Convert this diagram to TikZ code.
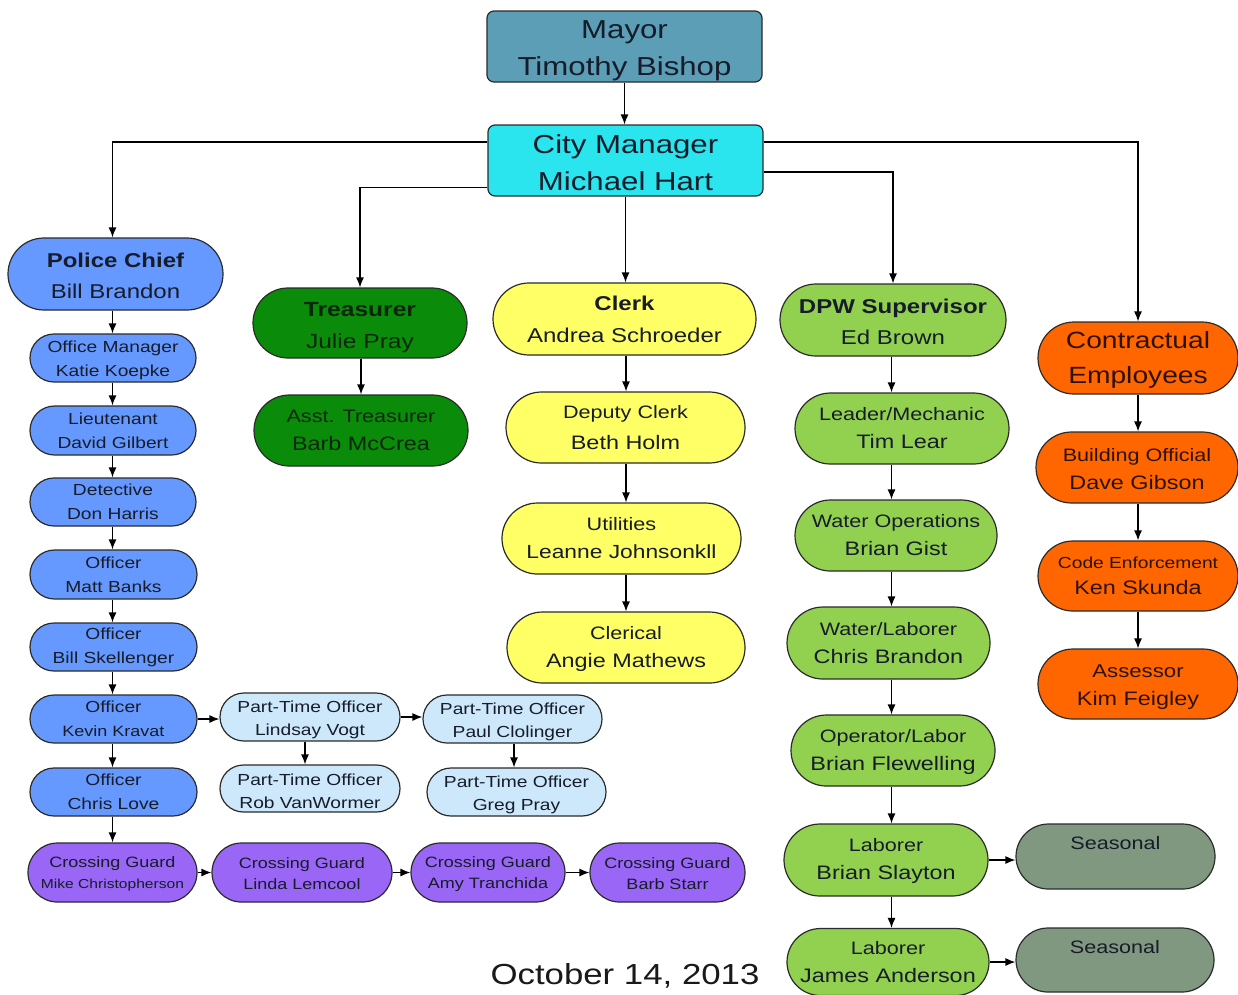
\documentclass[tikz,border=0pt]{standalone}
\usepackage{fontspec}
\setmainfont{Liberation Sans}[FakeStretch=1.2]
\usetikzlibrary{arrows.meta,shapes.misc}
\definecolor{mayorc}{HTML}{5B9EB6}
\definecolor{cmc}{HTML}{2AE4EE}
\definecolor{polc}{HTML}{6699FF}
\definecolor{ptc}{HTML}{CCE8FA}
\definecolor{cgc}{HTML}{9966F5}
\definecolor{trc}{HTML}{0A8C0A}
\definecolor{clc}{HTML}{FFFF66}
\definecolor{dpwc}{HTML}{92D050}
\definecolor{orc}{HTML}{FF6600}
\definecolor{sec}{HTML}{80987F}
\definecolor{ink}{HTML}{161C2A}
\definecolor{trink}{HTML}{0C260C}
\definecolor{orink}{HTML}{2E1200}
\definecolor{edgec}{HTML}{2B2B2B}
\newcommand\fsz[2]{\fontsize{#1pt}{#2pt}\selectfont}
\newcommand\up[1]{\rule{0pt}{#1pt}}
\tikzset{
  box/.style={draw=edgec, line width=1.2pt, text=ink, align=center, inner sep=0pt},
  sqbox/.style={box, rectangle, rounded corners=7pt},
  pill/.style={box, rounded rectangle},
  wh/.style 2 args={minimum width=#1pt, minimum height=#2pt},
  arr/.style={-{Latex[length=10pt,width=8pt]}, line width=1.2pt, black},
  police/.style={pill, fill=polc, font=\fsz{16}{24}},
  ptime/.style={pill, fill=ptc, font=\fsz{16}{23}},
  guard/.style={pill, fill=cgc, font=\fsz{15}{21}},
  clerkbox/.style={pill, fill=clc},
  dpwbox/.style={pill, fill=dpwc, font=\fsz{19.5}{28}},
  orbox/.style={pill, fill=orc, text=orink, font=\fsz{19.5}{28}},
  seas/.style={pill, fill=sec, font=\fsz{18}{27}},
}
\begin{document}
\begin{tikzpicture}[x=1pt,y=-1pt]
\fill[white] (0,0) rectangle (1238,994);
\useasboundingbox (0,0) rectangle (1238,994);

% column coordinates for vertical connectors
\coordinate (polcol) at (112.5,0);
\coordinate (ptcolA) at (305,0);
\coordinate (ptcolB) at (514,0);
\coordinate (trcol) at (361,0);
\coordinate (clcol) at (626,0);
\coordinate (dpwcol) at (891.5,0);
\coordinate (orcol) at (1138,0);

% top
\node[sqbox, fill=mayorc, wh={275}{71}, font=\fsz{26}{37}] (mayor) at (624.5,46.5) {\up{27}Mayor\\Timothy Bishop};
\node[sqbox, fill=cmc, wh={275}{71}, font=\fsz{26}{37}] (cm) at (625.5,160.5) {\up{23}City Manager\\Michael Hart};

% police
\node[pill, fill=polc, wh={215}{72}, font=\fsz{20}{31}] (pc) at (115.5,274) {\up{18.6}\textbf{Police Chief}\\Bill Brandon};
\node[police, wh={166}{48}] (om) at (113,358) {\up{15.5}Office Manager\\Katie Koepke};
\node[police, wh={166}{49}] (lt) at (113,430.5) {Lieutenant\\David Gilbert};
\node[police, wh={166}{48}] (det) at (113,502) {Detective\\Don Harris};
\node[police, wh={167}{49}] (o1) at (113.5,574.5) {Officer\\Matt Banks};
\node[police, wh={167}{48}] (o2) at (113.5,647) {Officer\\Bill Skellenger};
\node[police, wh={167}{48}] (o3) at (113.5,719) {Officer\\{\fsz{15}{24}Kevin Kravat}};
\node[police, wh={167}{48}] (o4) at (113.5,792) {Officer\\Chris Love};

\node[guard, wh={169}{59}] (cg1) at (112.5,872.5) {\up{13.5}Crossing Guard\\{\fsz{13}{21}Mike Christopherson}};
\node[guard, wh={180}{59}] (cg2) at (302,872.5) {\up{13.5}Crossing Guard\\Linda Lemcool};
\node[guard, wh={154}{59}] (cg3) at (488,872.5) {\up{13.5}Crossing Guard\\Amy Tranchida};
\node[guard, wh={155}{59}] (cg4) at (667.5,872.5) {\up{13.5}Crossing Guard\\Barb Starr};

\node[ptime, wh={180}{48}] (pt1) at (310,717) {\up{17.5}Part-Time Officer\\Lindsay Vogt};
\node[ptime, wh={179}{48}] (pt2) at (512.5,719) {\up{17.5}Part-Time Officer\\Paul Clolinger};
\node[ptime, wh={180}{47}] (pt3) at (310,788.5) {\up{17.5}Part-Time Officer\\Rob VanWormer};
\node[ptime, wh={179}{48}] (pt4) at (516.5,792) {\up{17.5}Part-Time Officer\\Greg Pray};

% treasurer
\node[pill, fill=trc, text=trink, wh={214}{70}, font=\fsz{20.5}{32}] (tr) at (360,323) {\up{24}\textbf{Treasurer}\\Julie Pray};
\node[pill, fill=trc, text=trink, wh={214}{71}, font=\fsz{19.5}{28}] (atr) at (361,430.5) {{\fsz{18}{28}Asst. Treasurer}\\Barb McCrea};

% clerk
\node[clerkbox, wh={263}{72}, font=\fsz{20}{32}] (cl) at (624.5,319) {\textbf{Clerk}\\Andrea Schroeder};
\node[clerkbox, wh={239}{71}, font=\fsz{19.5}{31}] (dc) at (625.5,427.5) {{\fsz{18}{31}Deputy Clerk}\\Beth Holm};
\node[clerkbox, wh={239}{71}, font=\fsz{19}{28}] (ut) at (621.5,538.5) {{\fsz{18}{28}Utilities}\\Leanne Johnsonkll};
\node[clerkbox, wh={238}{71}, font=\fsz{19.5}{28}] (cr) at (626,647.5) {{\fsz{18}{28}\up{16.5}Clerical}\\Angie Mathews};

% DPW
\node[pill, fill=dpwc, wh={226}{72}, font=\fsz{20}{31}] (dpw) at (893,320) {\up{18.5}\textbf{DPW Supervisor}\\Ed Brown};
\node[dpwbox, wh={214}{71}] (lm) at (902,428.5) {{\fsz{18}{28}Leader/Mechanic}\\Tim Lear};
\node[dpwbox, wh={202}{71}] (wo) at (896,535.5) {{\fsz{18}{28}Water Operations}\\Brian Gist};
\node[dpwbox, wh={203}{72}] (wl) at (888.5,643) {{\fsz{18}{28}Water/Laborer}\\Chris Brandon};
\node[dpwbox, wh={204}{71}] (ol) at (893,750.5) {{\fsz{18}{28}\up{17}Operator/Labor}\\Brian Flewelling};
\node[dpwbox, wh={204}{72}] (la1) at (886,860) {{\fsz{18}{28}\up{15.5}Laborer}\\Brian Slayton};
\node[dpwbox, wh={202}{67}] (la2) at (888,962) {{\fsz{18}{28}Laborer}\\James Anderson};

\node[seas, wh={199}{65}] (s1) at (1115.5,856.5) {Seasonal\\~};
\node[seas, wh={198}{64}] (s2) at (1115,960) {Seasonal\\~};

% contractual
\node[orbox, wh={200}{72}, font=\fsz{23.5}{35}] (ce) at (1138,358) {\up{21}Contractual\\Employees};
\node[orbox, wh={202}{71}] (bo) at (1137,467.5) {{\fsz{18}{28}\up{17}Building Official}\\Dave Gibson};
\node[orbox, wh={200}{70}, font=\fsz{19.5}{26}] (cen) at (1138,576) {{\fsz{16}{26}Code Enforcement}\\Ken Skunda};
\node[orbox, wh={200}{70}] (as) at (1138,684) {{\fsz{18.5}{28}\up{19}Assessor}\\Kim Feigley};

\node[text=black!90, font=\fsz{29}{35}, inner sep=0pt] (date) at (625,976) {October 14, 2013};

% connectors
\draw[arr] (mayor.south) -- (mayor.south |- cm.north);
\draw[arr] ([yshift=18.5pt]cm.west) -| (pc.north -| polcol);
\draw[arr] ([yshift=-27pt]cm.west) -| (tr.north);
\draw[arr] (cm.south) -- (cm.south |- cl.north);
\draw[arr] ([yshift=-11.5pt]cm.east) -| (dpw.north);
\draw[arr] ([yshift=18.5pt]cm.east) -| (ce.north);

\foreach \a/\b/\c in {pc/om/polcol,om/lt/polcol,lt/det/polcol,det/o1/polcol,o1/o2/polcol,
  o2/o3/polcol,o3/o4/polcol,o4/cg1/polcol,pt1/pt3/ptcolA,pt2/pt4/ptcolB,
  tr/atr/trcol,cl/dc/clcol,dc/ut/clcol,ut/cr/clcol,
  dpw/lm/dpwcol,lm/wo/dpwcol,wo/wl/dpwcol,wl/ol/dpwcol,ol/la1/dpwcol,la1/la2/dpwcol,
  ce/bo/orcol,bo/cen/orcol,cen/as/orcol}
  \draw[arr] (\c |- \a.south) -- (\c |- \b.north);
\foreach \a/\b in {o3/pt1,pt1/pt2,cg1/cg2,cg2/cg3,cg3/cg4,la1/s1,la2/s2}
  \draw[arr] (\a.east) -- (\a.east -| \b.west);
\end{tikzpicture}
\end{document}
